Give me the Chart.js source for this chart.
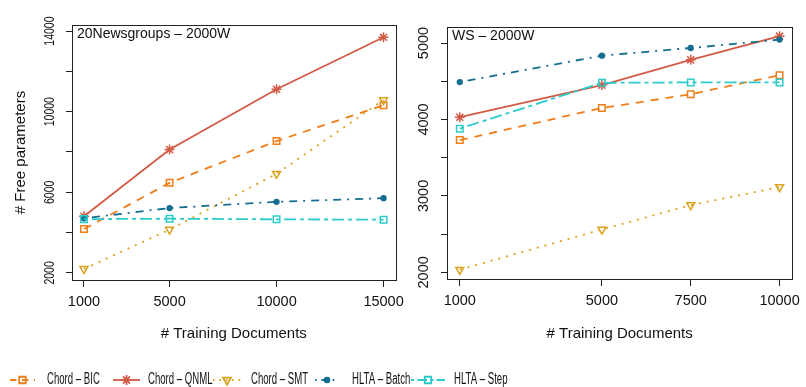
<!DOCTYPE html>
<html>
<head>
<meta charset="utf-8">
<script src="https://cdn.jsdelivr.net/npm/chart.js@4"></script>
<style>
  html, body { margin: 0; padding: 0; background: #fff; }
  body { width: 806px; height: 387px; position: relative; overflow: hidden; }
  .box { position: absolute; }
</style>
</head>
<body>
<div class="box" style="left:0;top:0;width:410px;height:345px"><canvas id="news"></canvas></div>
<div class="box" style="left:410px;top:0;width:396px;height:345px"><canvas id="ws"></canvas></div>
<canvas id="legend" width="806" height="30" style="position:absolute;left:0;top:365px"></canvas>
<script>
// data
const seriesNames = ['Chord \u2013 BIC', 'Chord \u2013 QNML', 'Chord \u2013 SMT', 'HLTA \u2013 Batch', 'HLTA \u2013 Step'];

const newsDocs = [1000, 5000, 10000, 15000];
const newsBIC = [4180, 6470, 8540, 10320];
const newsQNML = [4810, 8120, 11110, 13690];
const newsSMT = [2200, 4150, 6920, 10580];
const newsBatch = [4710, 5220, 5530, 5710];
const newsStep = [4670, 4690, 4660, 4640];
const newsYTicks = [2000, 4000, 6000, 8000, 10000, 12000, 14000];
const newsYLabels = [2000, 6000, 10000, 14000];

const wsDocs = [1000, 5000, 7500, 10000];
const wsBIC = [3730, 4150, 4330, 4580];
const wsQNML = [4030, 4450, 4780, 5090];
const wsSMT = [2035, 2560, 2880, 3115];
const wsBatch = [4490, 4835, 4935, 5045];
const wsStep = [3880, 4480, 4485, 4485];
const wsYTicks = [2000, 2500, 3000, 3500, 4000, 4500, 5000];
const wsYLabels = [2000, 3000, 4000, 5000];

const FONT = '"Liberation Sans", Arial, Helvetica, sans-serif';

const styles = [
  { color: '#F07D17', dash: [8, 7], point: 'rect', radius: 4.6, fill: 'rgba(0,0,0,0)', rot: 0 },
  { color: '#D35A45', dash: [], point: 'star', radius: 5, fill: 'rgba(0,0,0,0)', rot: 0 },
  { color: '#DBA21E', dash: [2, 6], point: 'triangle', radius: 4.6, fill: 'rgba(0,0,0,0)', rot: 180 },
  { color: '#146E8F', dash: [2, 6, 8, 6], point: 'circle', radius: 2.4, fill: '#146E8F', rot: 0 },
  { color: '#2BCBCB', dash: [4, 4, 12, 4], point: 'rect', radius: 4.6, fill: 'rgba(0,0,0,0)', rot: 0 }
];

function makeDatasets(xs, seriesList) {
  return seriesList.map((vals, i) => {
    const s = styles[i];
    return {
      label: seriesNames[i],
      data: xs.map((x, j) => ({ x: x, y: vals[j] })),
      borderColor: s.color,
      backgroundColor: s.fill,
      borderWidth: 1.8,
      borderDash: s.dash,
      pointStyle: s.point,
      pointRadius: s.radius,
      pointRotation: s.rot,
      pointBorderWidth: 1.5,
      pointBorderColor: s.color,
      pointBackgroundColor: s.fill,
      tension: 0,
      order: 5 - i
    };
  });
}

function panelPlugin(title, yLabels, labelX, fontSize, squeeze) {
  return {
    id: 'panel',
    afterDraw(chart) {
      const ctx = chart.ctx;
      const a = chart.chartArea;
      ctx.save();
      ctx.strokeStyle = '#222';
      ctx.lineWidth = 1;
      ctx.setLineDash([]);
      ctx.strokeRect(Math.round(a.left) + 0.5, Math.round(a.top) + 0.5,
        Math.round(a.right - a.left), Math.round(a.bottom - a.top));

      ctx.fillStyle = '#111';
      ctx.font = '14px ' + FONT;
      ctx.textAlign = 'left';
      ctx.textBaseline = 'middle';
      ctx.fillText(title, a.left + 5, a.top + 9);

      const ys = chart.scales.y;
      ctx.font = fontSize + 'px ' + FONT;
      yLabels.forEach(v => {
        const y = ys.getPixelForValue(v);
        ctx.save();
        ctx.translate(labelX, y);
        ctx.rotate(-Math.PI / 2);
        ctx.scale(squeeze, 1);
        ctx.textAlign = 'center';
        ctx.fillText(String(v), 0, 0);
        ctx.restore();
      });
      ctx.restore();
    }
  };
}

function makeChart(id, xs, seriesList, xRange, yRange, yTicks, yLabels, opts) {
  return new Chart(document.getElementById(id), {
    type: 'line',
    data: { datasets: makeDatasets(xs, seriesList) },
    options: {
      responsive: true,
      maintainAspectRatio: false,
      animation: false,
      layout: { padding: { top: opts.top, right: 8, left: 0, bottom: 0 } },
      plugins: { legend: { display: false }, tooltip: { enabled: false } },
      scales: {
        x: {
          type: 'linear',
          min: xRange[0],
          max: xRange[1],
          afterBuildTicks: s => { s.ticks = xs.map(v => ({ value: v })); },
          afterFit: s => { s.height = opts.xHeight; },
          grid: { drawOnChartArea: false, drawTicks: true, tickLength: 7, color: '#222' },
          border: { display: true, color: '#222' },
          ticks: { color: '#111', font: { family: FONT, size: 14.5 }, padding: 6, maxRotation: 0, autoSkip: false,
            callback: v => String(v) },
          title: { display: true, text: '# Training Documents', color: '#111',
            font: { family: FONT, size: 15 }, padding: { top: 0, bottom: 2 } }
        },
        y: {
          min: yRange[0],
          max: yRange[1],
          afterBuildTicks: s => { s.ticks = yTicks.map(v => ({ value: v })); },
          afterFit: s => { s.width = opts.yWidth; },
          grid: { drawOnChartArea: false, drawTicks: true, tickLength: 6, color: '#222' },
          border: { display: true, color: '#222' },
          ticks: { display: false },
          title: { display: !!opts.yTitle, text: opts.yTitle || '', color: '#111',
            font: { family: FONT, size: 15 }, padding: { top: 12, bottom: 0 } }
        }
      }
    },
    plugins: [panelPlugin(opts.title, yLabels, opts.labelX, opts.labelSize, opts.squeeze)]
  });
}

makeChart('news', newsDocs, [newsBIC, newsQNML, newsSMT, newsBatch, newsStep],
  [440, 15560], [1650, 14300], newsYTicks, newsYLabels,
  { top: 25, xHeight: 65, yWidth: 72, yTitle: '# Free parameters', title: '20Newsgroups \u2013 2000W',
    labelX: 50, labelSize: 15, squeeze: 0.7 });

makeChart('ws', wsDocs, [wsBIC, wsQNML, wsSMT, wsBatch, wsStep],
  [640, 10360], [1913, 5210], wsYTicks, wsYLabels,
  { top: 27, xHeight: 66, yWidth: 37, yTitle: '', title: 'WS \u2013 2000W',
    labelX: 14, labelSize: 14.5, squeeze: 1 });

// legend strip under both panels
const legendItems = [
  { x0: 10, x1: 35, tx: 47 },
  { x0: 113, x1: 140, tx: 148 },
  { x0: 213, x1: 241, tx: 251 },
  { x0: 315, x1: 339, tx: 352 },
  { x0: 411, x1: 445, tx: 454 }
];

function drawMarker(ctx, s, x, y) {
  Chart.helpers.drawPoint(ctx, { pointStyle: s.point, radius: s.radius, rotation: s.rot, borderWidth: 1.5 }, x, y);
}

(function drawLegend() {
  const ctx = document.getElementById('legend').getContext('2d');
  const y = 15;
  legendItems.forEach((it, i) => {
    const s = styles[i];
    ctx.save();
    ctx.strokeStyle = s.color;
    ctx.fillStyle = s.fill;
    ctx.lineWidth = 1.8;
    ctx.setLineDash(s.dash.length ? s.dash.map(d => d * 0.8) : []);
    ctx.beginPath();
    ctx.moveTo(it.x0, y);
    ctx.lineTo(it.x1, y);
    ctx.stroke();
    ctx.setLineDash([]);
    drawMarker(ctx, s, (it.x0 + it.x1) / 2, y);
    ctx.restore();

    ctx.save();
    ctx.fillStyle = '#111';
    ctx.font = '16px ' + FONT;
    ctx.textBaseline = 'middle';
    ctx.translate(it.tx, y);
    ctx.scale(0.6, 1);
    ctx.fillText(seriesNames[i], 0, 0);
    ctx.restore();
  });
})();
</script>
</body>
</html>
